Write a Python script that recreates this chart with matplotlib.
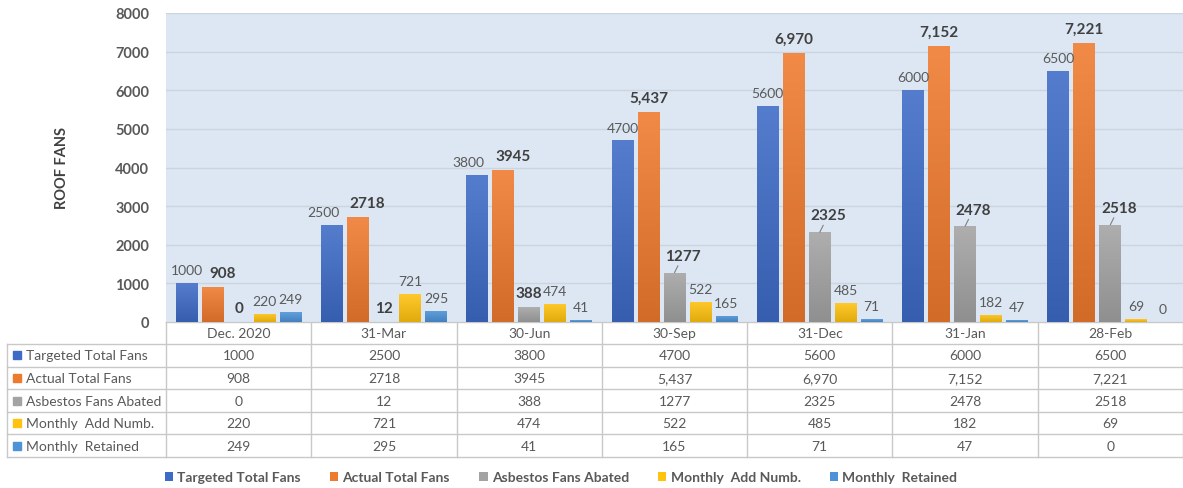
import numpy as np
import matplotlib
matplotlib.use("Agg")
import matplotlib.pyplot as plt
from matplotlib.patches import Rectangle
from matplotlib.colors import LinearSegmentedColormap, to_rgb

plt.rcParams['font.family'] = ['Lato', 'DejaVu Sans']

# data
categories = ["Dec. 2020", "31-Mar", "30-Jun", "30-Sep", "31-Dec", "31-Jan", "28-Feb"]
series_names = ["Targeted Total Fans", "Actual Total Fans", "Asbestos Fans Abated",
                "Monthly  Add Numb.", "Monthly  Retained"]
targeted = [1000, 2500, 3800, 4700, 5600, 6000, 6500]
actual = [908, 2718, 3945, 5437, 6970, 7152, 7221]
actual_labels = ["908", "2718", "3945", "5,437", "6,970", "7,152", "7,221"]
abated = [0, 12, 388, 1277, 2325, 2478, 2518]
monthly_add = [220, 721, 474, 522, 485, 182, 69]
retained = [249, 295, 41, 165, 71, 47, 0]

values = [targeted, actual, abated, monthly_add, retained]
labels = [[str(v) for v in targeted], actual_labels, [str(v) for v in abated],
          [str(v) for v in monthly_add], [str(v) for v in retained]]
colors = ["#3E6BC6", "#EE7A2D", "#A3A3A3", "#FFC20E", "#4C93D8"]
bold = [False, True, True, False, False]


def shade(c, f):
    r = np.array(to_rgb(c))
    if f > 0:
        return tuple(r + (1 - r) * f)
    return tuple(r * (1 + f))


W, H = 1183, 489
fig = plt.figure(figsize=(W / 100, H / 100), dpi=100)

# plot area
left, right, top, bottom = 166, 1183, 14, 323
ax = fig.add_axes([left / W, 1 - bottom / H, (right - left) / W, (bottom - top) / H])
ax.set_facecolor("#DCE7F3")
ax.set_yticks(range(0, 8001, 1000))
ax.set_xticks([])
ax.tick_params(axis="y", length=0, pad=12, labelsize=10.5, labelcolor="#595959")
for t in ax.get_yticklabels():
    t.set_fontweight("bold")
ax.grid(axis="y", color="#CBD5E0", lw=1)
ax.set_axisbelow(True)
for s in ax.spines.values():
    s.set_visible(False)
ax.set_ylabel("ROOF FANS", fontsize=10.5, fontweight="bold", color="#404040")
ax.yaxis.set_label_coords(-0.095, 0.5)

x = np.arange(len(categories)) + 0.5
step, width = 0.179, 0.151
grad = np.linspace(0, 1, 64).reshape(-1, 1)
handles = []
for k in range(5):
    xs = x + (k - 2) * step
    b = ax.bar(xs, values[k], width=width, color=colors[k], zorder=2)
    handles.append(b)
    # light vertical gradient like the Excel bars
    cmap = LinearSegmentedColormap.from_list("g", [shade(colors[k], -0.12), shade(colors[k], 0.12)])
    for p in b.patches:
        if p.get_height() <= 0:
            continue
        x0, h = p.get_x(), p.get_height()
        im = ax.imshow(grad, extent=[x0, x0 + width, 0, h], origin="lower",
                       aspect="auto", cmap=cmap, zorder=2.1)
        im.set_clip_path(p)
    for i, (xi, v, lab) in enumerate(zip(xs, values[k], labels[k])):
        dx, dy, arrow = 0, 5, None
        close = abs(targeted[i] - actual[i]) < 400
        if k == 1 and close:
            dx = 7
        if k == 0 and close and v > 2000:
            dx = -6
        if k == 2 and v > 1000:
            dx, dy = 6, 7
            arrow = dict(arrowstyle="-", color="#808080", lw=0.8, shrinkA=0, shrinkB=0)
        ax.annotate(lab, (xi, v), xytext=(dx, dy), textcoords="offset points",
                    ha="center", va="bottom",
                    fontsize=11 if bold[k] else 10,
                    fontweight="bold" if bold[k] else "normal",
                    color="#404040" if bold[k] else "#595959",
                    arrowprops=arrow, zorder=4)

ax.set_xlim(0, len(categories))
ax.set_ylim(0, 8000)

# data table under the plot
tax = fig.add_axes([0, 0, 1, 1], zorder=-1)
tax.set_xlim(0, W)
tax.set_ylim(H, 0)
tax.axis("off")
line_c = "#C8C8C8"
tleft = 7
row_h = 22.6
rows_y = [bottom + 22 + i * row_h for i in range(6)]
col_w = (right - left) / len(categories)
tax.plot([left, right], [bottom, bottom], color=line_c, lw=1)
for yy in rows_y:
    tax.plot([tleft, right], [yy, yy], color=line_c, lw=1)
tax.plot([tleft, tleft], [rows_y[0], rows_y[-1]], color=line_c, lw=1)
for i in range(len(categories) + 1):
    xx = left + i * col_w
    tax.plot([xx, xx], [bottom, rows_y[-1]], color=line_c, lw=1)
for i, c in enumerate(categories):
    tax.text(left + (i + 0.5) * col_w, (bottom + rows_y[0]) / 2, c, ha="center",
             va="center", fontsize=10, color="#595959")
for r in range(5):
    yc = (rows_y[r] + rows_y[r + 1]) / 2
    tax.add_patch(Rectangle((tleft + 6, yc - 4), 8, 8, color=colors[r]))
    tax.text(tleft + 19, yc, series_names[r], ha="left", va="center",
             fontsize=10, color="#595959")
    for i in range(len(categories)):
        tax.text(left + (i + 0.5) * col_w, yc, labels[r][i], ha="center",
                 va="center", fontsize=10, color="#595959")

fig.legend(handles, series_names, loc="center", ncol=5, frameon=False,
           bbox_to_anchor=(561 / W, 1 - 478 / H), handlelength=0.6,
           handleheight=0.6, handletextpad=0.3, columnspacing=2.1,
           prop={"weight": "bold", "size": 10}, labelcolor="#595959")

fig.savefig("out.png", dpi=100)
